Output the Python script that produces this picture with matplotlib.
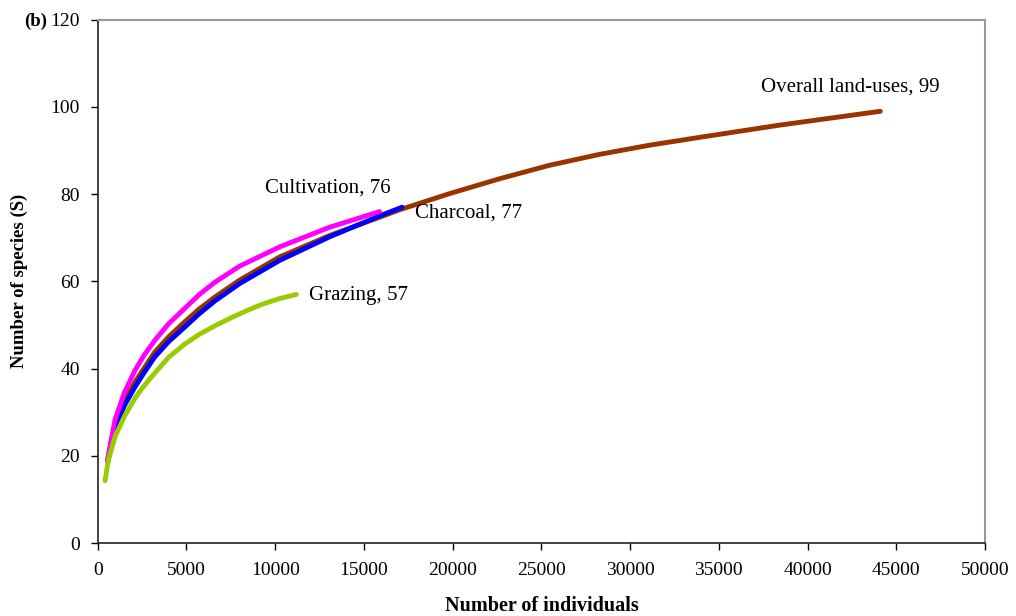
import matplotlib.pyplot as plt
import numpy as np

# rarefaction curves, species vs individuals
overall_x = [560, 750, 1000, 1500, 2100, 2600, 3220, 4000, 4900, 5700, 6600, 8000,
             10250, 13060, 15880, 17000, 19810, 22620, 25440, 28250, 31060,
             33880, 38380, 44100]
overall_y = [19, 23, 27.5, 32.5, 36.9, 40, 43.8, 47.3, 50.7, 53.6, 56.4, 60.3,
             65.6, 70.5, 74.7, 76.4, 80.1, 83.5, 86.6, 89.1, 91.2,
             93, 95.8, 99]

charcoal_x = [560, 750, 1000, 1500, 2100, 2600, 3220, 4000, 4900, 5700, 6600, 8000,
              10250, 13060, 15880, 17150]
charcoal_y = [18.5, 22, 26.5, 31.5, 35.8, 39, 42.7, 46.2, 49.5, 52.5, 55.5, 59.5,
              64.8, 70.2, 75, 77]

cultivation_x = [560, 750, 970, 1500, 2100, 2600, 3220, 4000, 4900, 5700, 6600, 8000,
                 10250, 13060, 15880]
cultivation_y = [19, 23.5, 28.2, 34.5, 39.6, 43, 46.5, 50.3, 53.8, 56.9, 59.8, 63.5,
                 67.9, 72.4, 76]

grazing_x = [410, 600, 970, 1500, 2100, 2600, 3220, 4000, 4900, 5700, 6600, 7440,
             8400, 9300, 10200, 11190]
grazing_y = [14.3, 19, 24.3, 29, 33.2, 36, 39, 42.6, 45.6, 47.8, 49.8, 51.5,
             53.3, 54.8, 56, 57]

plt.rcParams['font.family'] = ['Liberation Serif', 'DejaVu Serif']

fig = plt.figure(figsize=(10.16, 6.16), dpi=100)
ax = fig.add_axes([0.0962, 0.1185, 0.8733, 0.8495])

lw = 3.5
ax.plot(overall_x, overall_y, color='#993300', lw=lw, solid_capstyle='round', solid_joinstyle='round')
ax.plot(charcoal_x, charcoal_y, color='#0000FF', lw=lw, solid_capstyle='round', solid_joinstyle='round')
ax.plot(cultivation_x, cultivation_y, color='#FF00FF', lw=lw, solid_capstyle='round', solid_joinstyle='round')
ax.plot(grazing_x, grazing_y, color='#99CC00', lw=lw, solid_capstyle='round', solid_joinstyle='round')

fs = 15
ax.text(37360, 104.6, 'Overall land-uses, %d' % overall_y[-1], fontsize=fs, va='center')
ax.text(9410, 81.3, 'Cultivation, %d' % cultivation_y[-1], fontsize=fs, va='center')
ax.text(17900, 75.6, 'Charcoal, %d' % charcoal_y[-1], fontsize=fs, va='center')
ax.text(11890, 56.8, 'Grazing, %d' % grazing_y[-1], fontsize=fs, va='center')

ax.set_xlim(0, 50000)
ax.set_ylim(0, 120)
ax.set_xticks(np.arange(0, 50001, 5000))
ax.set_yticks(np.arange(0, 121, 20))
ax.tick_params(direction='out', length=5, width=1, labelsize=14)
ax.tick_params(axis='x', pad=9)
ax.tick_params(axis='y', pad=8)
for s in ['top', 'right']:
    ax.spines[s].set_color('#999999')
    ax.spines[s].set_linewidth(1.5)
for s in ['left', 'bottom']:
    ax.spines[s].set_color('#222222')
    ax.spines[s].set_linewidth(1.2)

ax.set_xlabel('Number of individuals', fontsize=14.5, fontweight='bold', labelpad=12)
ax.set_ylabel('Number of species (S)', fontsize=13.5, fontweight='bold', labelpad=16)
fig.text(0.024, 0.965, '(b)', fontsize=13.5, fontweight='bold', va='center')

fig.savefig('out.png', dpi=100)
